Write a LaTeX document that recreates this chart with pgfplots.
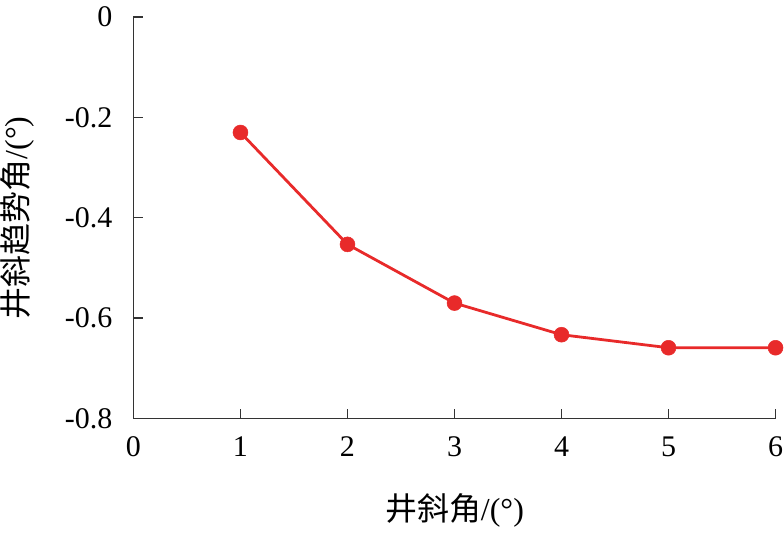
\documentclass[border={0bp 5bp 0bp 6bp}]{standalone}
\usepackage{pgfplots}
\pgfplotsset{compat=1.18}
\usepackage{fontspec}
\setmainfont{Liberation Serif}
\newfontfamily\cjk{Noto Sans CJK SC}
\definecolor{myred}{RGB}{232,42,42}
\begin{document}
\fontsize{30bp}{34bp}\selectfont
\begin{tikzpicture}
\begin{axis}[
  scale only axis,
  width=643bp, height=402bp,
  xmin=0, xmax=6, ymin=-0.8, ymax=0,
  axis lines=left,
  axis line style={-, line width=1.3bp, black!80},
  xtick={0,1,...,6},
  ytick={-0.8,-0.6,-0.4,-0.2,0},
  yticklabels={-0.8,-0.6,-0.4,-0.2,0},
  xticklabels={0,1,2,3,4,5,6},
  tick align=inside,
  major tick length=10bp,
  tick style={line width=1.3bp, black!80},
  ticklabel style={font=\fontsize{30bp}{34bp}\selectfont, inner sep=1bp},
  xticklabel style={yshift=-17bp},
  yticklabel style={xshift=-20bp},
  xlabel={{\cjk 井斜角}/(°)},
  ylabel={{\cjk 井斜趋势角}/(°)},
  label style={font=\fontsize{32bp}{36bp}\selectfont, inner sep=1bp},
  xlabel style={yshift=-35bp},
  ylabel style={yshift=28bp},
  clip=false,
]
\addplot[color=myred, line width=2.8bp, mark=*, mark size=7.5bp, mark options={fill=myred, draw=myred, line width=0.5bp}]
coordinates {(1,-0.23) (2,-0.453) (3,-0.57) (4,-0.633) (5,-0.659) (6,-0.659)};
\end{axis}
\end{tikzpicture}
\end{document}
